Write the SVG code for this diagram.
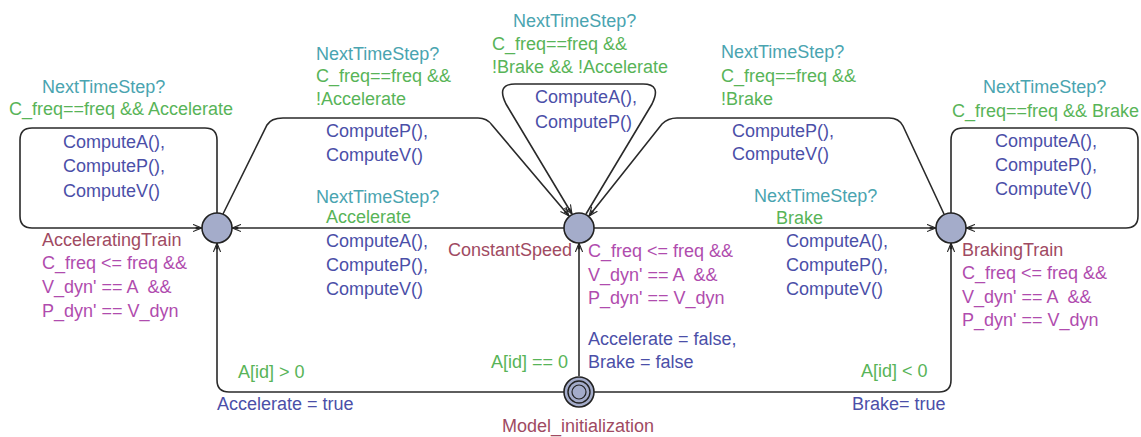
<svg xmlns="http://www.w3.org/2000/svg" width="1141" height="437" viewBox="0 0 1141 437">
<style>
text{font-family:"Liberation Sans",Arial,sans-serif;font-size:18px;white-space:pre}
.sync{fill:#4aa4b0}
.guard{fill:#58b458}
.upd{fill:#4b4fa8}
.name{fill:#a04a62}
.inv{fill:#b04cae}
.edge{fill:none;stroke:#2a2a2a;stroke-width:1.6}
.loc{fill:#a4acca;stroke:#222;stroke-width:1.6}
</style>
<defs>
<marker id="arr" viewBox="0 0 10 10" refX="10" refY="5" markerWidth="9" markerHeight="9" markerUnits="userSpaceOnUse" orient="auto">
<path d="M0,1 L10,5 L0,9" fill="none" stroke="#222" stroke-width="1.2"/>
<path d="M3,3.2 L10,5 L3,6.8 Z" fill="#222"/>
</marker>
</defs>
<rect width="1141" height="437" fill="#ffffff"/>
<g id="connectors">
<path class="edge" marker-end="url(#arr)" d="M217,213 L217,140 Q217,128 205,128 L32,128 Q20,128 20,140 L20,216 Q20,228 32,228 L202,228"/>
<path class="edge" marker-end="url(#arr)" d="M564,228 L232,228"/>
<path class="edge" marker-end="url(#arr)" d="M223,214 L267,125 Q271,118 283,118 L478,118 Q487,118 492,125 L569,216"/>
<path class="edge" marker-end="url(#arr)" d="M586,214 L652,104 Q662,84 643,84 L515,84 Q496,84 506,104 L572,214"/>
<path class="edge" marker-end="url(#arr)" d="M944,214 L903,126 Q899,118 889,118 L677,118 Q668,118 662,124 L589,216"/>
<path class="edge" marker-end="url(#arr)" d="M594,228 L936,228"/>
<path class="edge" marker-end="url(#arr)" d="M951,213 L951,140 Q951,128 963,128 L1126,128 Q1138,128 1138,140 L1138,216 Q1138,228 1126,228 L966,228"/>
<path class="edge" marker-end="url(#arr)" d="M579,376 L579,243"/>
<path class="edge" marker-end="url(#arr)" d="M564,392 L229,392 Q217,392 217,380 L217,243"/>
<path class="edge" marker-end="url(#arr)" d="M594,392 L939,392 Q951,392 951,380 L951,243"/>
</g>
<g id="edge-labels">
<text class="sync" x="42" y="93">NextTimeStep?</text>
<text class="guard" x="9" y="115">C_freq==freq &amp;&amp; Accelerate</text>
<text class="upd" x="63" y="148">ComputeA(),</text>
<text class="upd" x="63" y="172">ComputeP(),</text>
<text class="upd" x="63" y="197">ComputeV()</text>

<text class="sync" x="316" y="60">NextTimeStep?</text>
<text class="guard" x="316" y="82">C_freq==freq &amp;&amp;</text>
<text class="guard" x="316" y="105">!Accelerate</text>
<text class="upd" x="326" y="137">ComputeP(),</text>
<text class="upd" x="326" y="161">ComputeV()</text>

<text class="sync" x="316" y="203">NextTimeStep?</text>
<text class="guard" x="326" y="223">Accelerate</text>
<text class="upd" x="326" y="247">ComputeA(),</text>
<text class="upd" x="326" y="271">ComputeP(),</text>
<text class="upd" x="326" y="295">ComputeV()</text>

<text class="sync" x="513" y="27">NextTimeStep?</text>
<text class="guard" x="492" y="50">C_freq==freq &amp;&amp;</text>
<text class="guard" x="492" y="73">!Brake &amp;&amp; !Accelerate</text>
<text class="upd" x="535" y="103">ComputeA(),</text>
<text class="upd" x="535" y="128">ComputeP()</text>

<text class="sync" x="721" y="58">NextTimeStep?</text>
<text class="guard" x="721" y="82">C_freq==freq &amp;&amp;</text>
<text class="guard" x="721" y="105">!Brake</text>
<text class="upd" x="732" y="137">ComputeP(),</text>
<text class="upd" x="732" y="160">ComputeV()</text>

<text class="sync" x="754" y="202">NextTimeStep?</text>
<text class="guard" x="776" y="224">Brake</text>
<text class="upd" x="786" y="247">ComputeA(),</text>
<text class="upd" x="786" y="271">ComputeP(),</text>
<text class="upd" x="786" y="295">ComputeV()</text>

<text class="sync" x="983" y="93">NextTimeStep?</text>
<text class="guard" x="952" y="117">C_freq==freq &amp;&amp; Brake</text>
<text class="upd" x="995" y="147">ComputeA(),</text>
<text class="upd" x="995" y="171">ComputeP(),</text>
<text class="upd" x="995" y="195">ComputeV()</text>

<text class="guard" x="238" y="378">A[id] &gt; 0</text>
<text class="upd" x="217" y="410">Accelerate = true</text>
<text class="guard" x="491" y="368">A[id] == 0</text>
<text class="upd" x="588" y="345">Accelerate = false,</text>
<text class="upd" x="588" y="368">Brake = false</text>
<text class="guard" x="861" y="377">A[id] &lt; 0</text>
<text class="upd" x="852" y="410">Brake= true</text>
</g>
<g id="AcceleratingTrain">
<circle class="loc" cx="217" cy="228" r="15"/>
<text class="name" x="42" y="246">AcceleratingTrain</text>
<text class="inv" x="42" y="269">C_freq &lt;= freq &amp;&amp;</text>
<text class="inv" x="42" y="293">V_dyn' == A  &amp;&amp;</text>
<text class="inv" x="42" y="317">P_dyn' == V_dyn</text>
</g>
<g id="ConstantSpeed">
<circle class="loc" cx="579" cy="228" r="15"/>
<text class="name" x="448" y="256">ConstantSpeed</text>
<text class="inv" x="588" y="257">C_freq &lt;= freq &amp;&amp;</text>
<text class="inv" x="588" y="281">V_dyn' == A  &amp;&amp;</text>
<text class="inv" x="588" y="304">P_dyn' == V_dyn</text>
</g>
<g id="BrakingTrain">
<circle class="loc" cx="951" cy="228" r="15"/>
<text class="name" x="962" y="256">BrakingTrain</text>
<text class="inv" x="962" y="279">C_freq &lt;= freq &amp;&amp;</text>
<text class="inv" x="962" y="303">V_dyn' == A  &amp;&amp;</text>
<text class="inv" x="962" y="326">P_dyn' == V_dyn</text>
</g>
<g id="Model_initialization">
<circle class="loc" cx="579" cy="392" r="15"/>
<circle cx="579" cy="392" r="11" fill="none" stroke="#222" stroke-width="1.4"/>
<circle cx="579" cy="392" r="7" fill="none" stroke="#222" stroke-width="1.2"/>
<text class="name" x="502" y="432">Model_initialization</text>
</g>
</svg>
